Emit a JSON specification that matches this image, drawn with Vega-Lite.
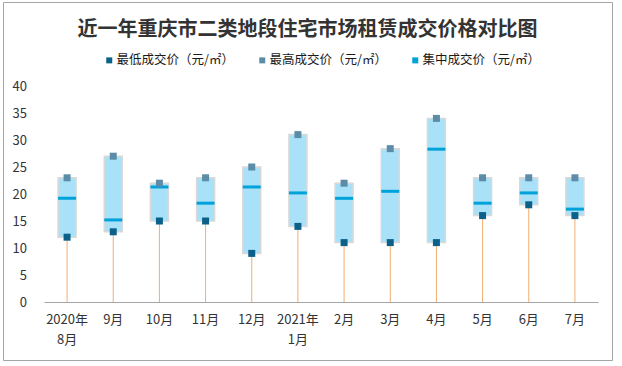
{
  "$schema": "https://vega.github.io/schema/vega-lite/v6.json",
  "width": 609,
  "height": 358,
  "autosize": {"type": "none"},
  "padding": {"left": 3, "top": 2, "right": 10, "bottom": 6},
  "background": "white",
  "config": {
    "view": {"stroke": "#A6A6A6", "strokeWidth": 1},
    "font": "Noto Sans CJK SC"
  },
  "title": {
    "text": "近一年重庆市二类地段住宅市场租赁成交价格对比图",
    "fontSize": 20,
    "fontWeight": "bold",
    "font": "Noto Sans CJK SC",
    "color": "#333333",
    "anchor": "middle",
    "offset": -38
  },
  "data": {
    "values": [
      {"month": "2020年8月", "min": 12, "max": 23, "mid": 19.2},
      {"month": "9月", "min": 13, "max": 27, "mid": 15.2},
      {"month": "10月", "min": 15, "max": 22, "mid": 21.3},
      {"month": "11月", "min": 15, "max": 23, "mid": 18.3},
      {"month": "12月", "min": 9, "max": 25, "mid": 21.3},
      {"month": "2021年1月", "min": 14, "max": 31, "mid": 20.2},
      {"month": "2月", "min": 11, "max": 22, "mid": 19.2},
      {"month": "3月", "min": 11, "max": 28.4, "mid": 20.5},
      {"month": "4月", "min": 11, "max": 34, "mid": 28.3},
      {"month": "5月", "min": 16, "max": 23, "mid": 18.3},
      {"month": "6月", "min": 18, "max": 23, "mid": 20.2},
      {"month": "7月", "min": 16, "max": 23, "mid": 17.2}
    ]
  },
  "encoding": {
    "x": {
      "field": "month",
      "type": "nominal",
      "sort": null,
      "scale": {"type": "band", "range": [41, 595], "paddingInner": 0, "paddingOuter": 0},
      "axis": {
        "title": null,
        "orient": "bottom",
        "offset": -58,
        "labelAngle": 0,
        "ticks": false,
        "tickSize": 0,
        "labelPadding": 11,
        "labelFontSize": 13,
        "labelColor": "#333333",
        "labelLineHeight": 20,
        "domainColor": "#A6A6A6",
        "domainWidth": 1,
        "labelExpr": "indexof(datum.value,'年')>0 ? [slice(datum.value,0,5), slice(datum.value,5)] : datum.value"
      }
    }
  },
  "layer": [
    {
      "mark": {"type": "bar", "width": 18, "fill": "#A9E1F8", "stroke": "#D9D9D9", "strokeWidth": 1.5},
      "encoding": {
        "y": {
          "field": "min",
          "type": "quantitative",
          "scale": {"domain": [0, 40], "range": [300, 84], "nice": false, "zero": false},
          "axis": {
            "title": null,
            "values": [0, 5, 10, 15, 20, 25, 30, 35, 40],
            "offset": -26.5,
            "domain": false,
            "grid": false,
            "ticks": false,
            "tickSize": 0,
            "labelPadding": 3,
            "labelFontSize": 13,
            "labelColor": "#333333"
          }
        },
        "y2": {"field": "max"}
      }
    },
    {
      "mark": {"type": "rule", "color": "#F2AE72", "strokeWidth": 1},
      "encoding": {
        "y": {"field": "min", "type": "quantitative"},
        "y2": {"datum": 0}
      }
    },
    {
      "mark": {"type": "tick", "size": 18, "thickness": 3, "opacity": 1},
      "encoding": {
        "y": {"field": "mid", "type": "quantitative"},
        "color": {"datum": "集中成交价（元/㎡）", "type": "nominal"}
      }
    },
    {
      "mark": {"type": "point", "shape": "square", "filled": true, "size": 49, "opacity": 1},
      "encoding": {
        "y": {"field": "min", "type": "quantitative"},
        "color": {"datum": "最低成交价（元/㎡）", "type": "nominal"}
      }
    },
    {
      "mark": {"type": "point", "shape": "square", "filled": true, "size": 49, "opacity": 1},
      "encoding": {
        "y": {"field": "max", "type": "quantitative"},
        "color": {
          "datum": "最高成交价（元/㎡）",
          "type": "nominal",
          "scale": {
            "domain": ["最低成交价（元/㎡）", "最高成交价（元/㎡）", "集中成交价（元/㎡）"],
            "range": ["#0B6189", "#5B8CA8", "#00A2DA"]
          },
          "legend": {
            "orient": "none",
            "legendX": 100,
            "legendY": 52,
            "direction": "horizontal",
            "title": null,
            "padding": 0,
            "symbolType": "square",
            "symbolSize": 36,
            "labelFontSize": 12.5,
            "labelFont": "Noto Sans CJK SC",
            "labelColor": "#1A1A1A",
            "columnPadding": 22,
            "labelOffset": 1,
            "encode": {
              "symbols": {
                "update": {
                  "shape": {"signal": "datum.label === '集中成交价（元/㎡）' ? 'stroke' : 'square'"},
                  "strokeWidth": {"signal": "datum.label === '集中成交价（元/㎡）' ? 2.5 : 0"},
                  "stroke": {"signal": "scale('color', datum.value)"},
                  "fill": {"signal": "scale('color', datum.value)"},
                  "opacity": {"value": 1}
                }
              }
            }
          }
        }
      }
    }
  ]
}
